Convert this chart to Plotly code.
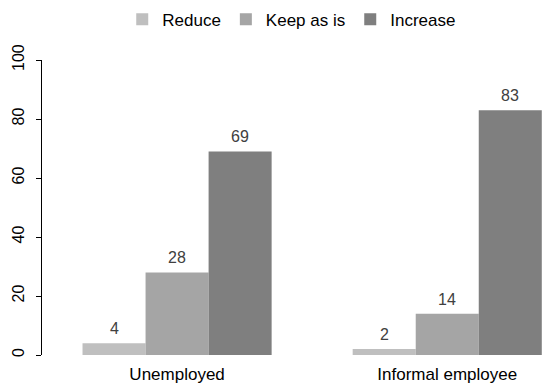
import plotly.graph_objects as go

categories = ["Unemployed", "Informal employee"]
series_names = ["Reduce", "Keep as is", "Increase"]
reduce_vals = [4, 2]
keep_vals = [28, 14]
increase_vals = [69, 83]
colors = ["#bfbfbf", "#a5a5a5", "#7f7f7f"]
y_ticks = [0, 20, 40, 60, 80, 100]

fig = go.Figure()
for name, vals, col in zip(series_names, [reduce_vals, keep_vals, increase_vals], colors):
    fig.add_trace(go.Bar(
        x=categories, y=vals, name=name, marker_color=col,
        marker_line_width=0,
    ))

font = "Liberation Sans, Arial, sans-serif"
fig.update_layout(
    width=558, height=390,
    margin=dict(l=34, r=8, t=52, b=43, autoexpand=False),
    paper_bgcolor="white", plot_bgcolor="white",
    font=dict(family=font, size=16, color="#000000"),
    barmode="group", bargap=0.3, bargroupgap=0,
    legend=dict(orientation="h", x=0.484, xanchor="center", y=0.97, yref="container",
                yanchor="middle", font=dict(size=17, color="#000000"),
                itemwidth=30, traceorder="normal"),
    xaxis=dict(range=[-0.5, 1.41], showline=False, ticks="", showgrid=False,
               tickfont=dict(size=17), automargin=False, ticklabelstandoff=7),
    yaxis=dict(range=[0, 100], tickvals=y_ticks, showline=True, linecolor="#000000",
               linewidth=1, ticks="outside", ticklen=5, tickcolor="#000000",
               showgrid=False, zeroline=False, tickangle=-90, automargin=False,
               ticklabelstandoff=6,
               tickfont=dict(size=16, color="#000000")),
)

# value labels above bars, positioned in data coordinates of each grouped bar
group_width = 1 - 0.3
bar_w = group_width / 3
for i, cat in enumerate(categories):
    for j, vals in enumerate([reduce_vals, keep_vals, increase_vals]):
        fig.add_annotation(
            x=i + (j - 1) * bar_w, y=vals[i], xref="x", yref="y",
            text=str(vals[i]), showarrow=False, yanchor="bottom", yshift=4,
            font=dict(size=16, color="#404040"),
        )

fig.write_html("out.html")
